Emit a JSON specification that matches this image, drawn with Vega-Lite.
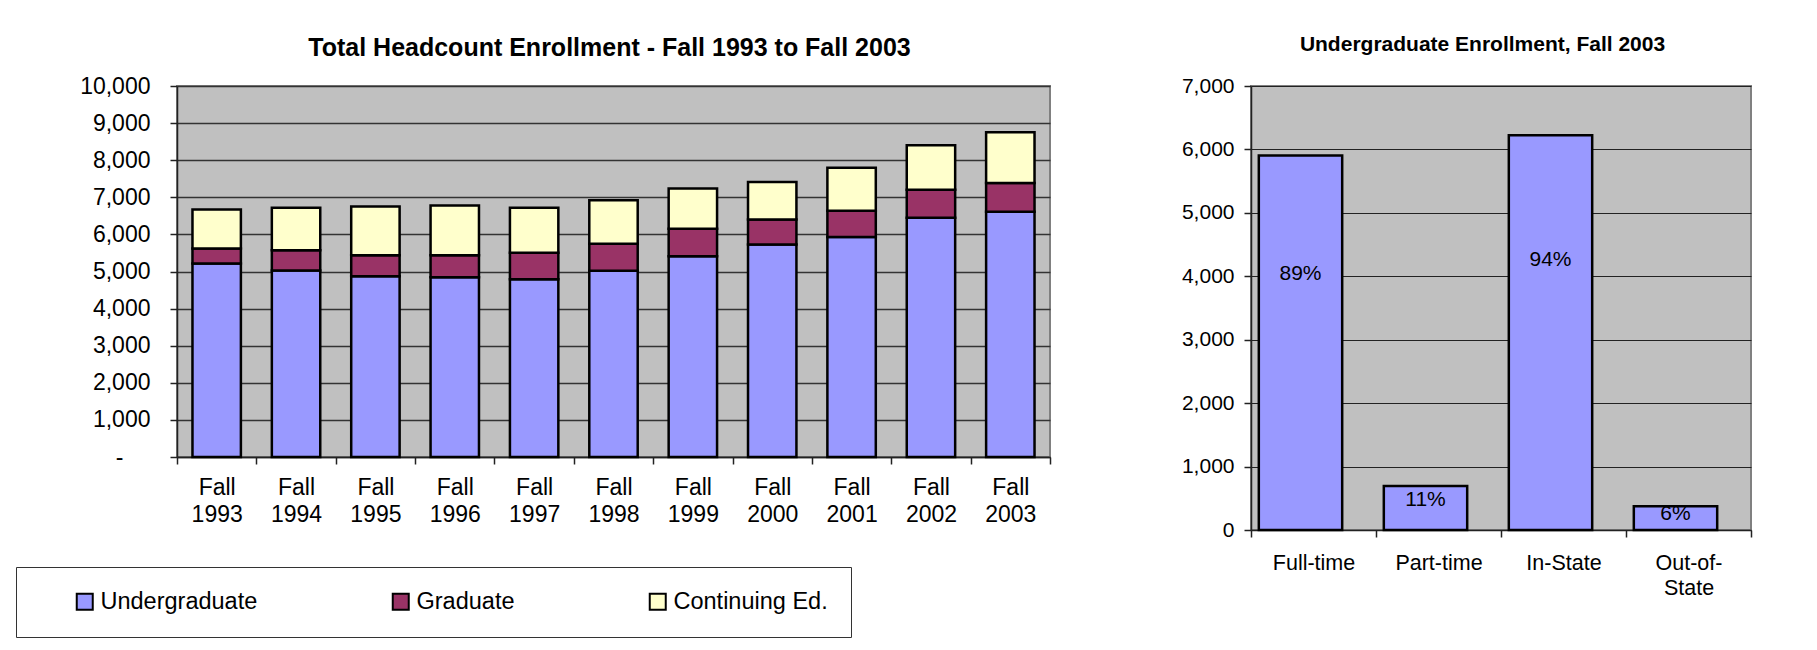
{
  "$schema": "https://vega.github.io/schema/vega-lite/v6.json",
  "background": "white",
  "padding": {"left": 15, "top": 33, "right": 5, "bottom": 5},
  "bounds": "flush",
  "spacing": 201,
  "config": {
    "font": "Liberation Sans",
    "view": {"fill": "#C0C0C0", "stroke": "#808080", "strokeWidth": 2},
    "axis": {"labelFont": "Liberation Sans", "labelColor": "black", "domainColor": "#222222", "domainWidth": 1.5, "tickColor": "#222222", "tickWidth": 1.5, "tickSize": 7, "gridColor": "#333333", "title": null}
  },
  "hconcat": [
    {
      "width": 873,
      "height": 371,
      "title": {"text": "Total Headcount Enrollment - Fall 1993 to Fall 2003", "fontSize": 25, "fontWeight": "bold", "color": "black", "anchor": "middle", "frame": "group", "baseline": "alphabetic", "offset": -6, "dx": -4},
      "data": {"values": [
        {"year": "Fall 1993", "level": "Undergraduate", "n": 5217},
        {"year": "Fall 1993", "level": "Graduate", "n": 405},
        {"year": "Fall 1993", "level": "Continuing Ed.", "n": 1052},
        {"year": "Fall 1994", "level": "Undergraduate", "n": 5028},
        {"year": "Fall 1994", "level": "Graduate", "n": 548},
        {"year": "Fall 1994", "level": "Continuing Ed.", "n": 1141},
        {"year": "Fall 1995", "level": "Undergraduate", "n": 4875},
        {"year": "Fall 1995", "level": "Graduate", "n": 566},
        {"year": "Fall 1995", "level": "Continuing Ed.", "n": 1314},
        {"year": "Fall 1996", "level": "Undergraduate", "n": 4848},
        {"year": "Fall 1996", "level": "Graduate", "n": 593},
        {"year": "Fall 1996", "level": "Continuing Ed.", "n": 1341},
        {"year": "Fall 1997", "level": "Undergraduate", "n": 4794},
        {"year": "Fall 1997", "level": "Graduate", "n": 709},
        {"year": "Fall 1997", "level": "Continuing Ed.", "n": 1214},
        {"year": "Fall 1998", "level": "Undergraduate", "n": 5020},
        {"year": "Fall 1998", "level": "Graduate", "n": 726},
        {"year": "Fall 1998", "level": "Continuing Ed.", "n": 1174},
        {"year": "Fall 1999", "level": "Undergraduate", "n": 5414},
        {"year": "Fall 1999", "level": "Graduate", "n": 737},
        {"year": "Fall 1999", "level": "Continuing Ed.", "n": 1089},
        {"year": "Fall 2000", "level": "Undergraduate", "n": 5729},
        {"year": "Fall 2000", "level": "Graduate", "n": 675},
        {"year": "Fall 2000", "level": "Continuing Ed.", "n": 1006},
        {"year": "Fall 2001", "level": "Undergraduate", "n": 5927},
        {"year": "Fall 2001", "level": "Graduate", "n": 709},
        {"year": "Fall 2001", "level": "Continuing Ed.", "n": 1160},
        {"year": "Fall 2002", "level": "Undergraduate", "n": 6447},
        {"year": "Fall 2002", "level": "Graduate", "n": 756},
        {"year": "Fall 2002", "level": "Continuing Ed.", "n": 1197},
        {"year": "Fall 2003", "level": "Undergraduate", "n": 6609},
        {"year": "Fall 2003", "level": "Graduate", "n": 774},
        {"year": "Fall 2003", "level": "Continuing Ed.", "n": 1368}
      ]},
      "mark": {"type": "bar", "width": {"band": 0.61}, "stroke": "black", "strokeWidth": 2.5},
      "encoding": {
        "x": {"field": "year", "type": "nominal", "scale": {"paddingInner": 0, "paddingOuter": 0},
          "axis": {"labelAngle": 0, "labelFontSize": 23, "labelExpr": "split(datum.label, ' ')", "labelLineHeight": 27.7, "labelPadding": 12, "tickBand": "extent", "grid": false}},
        "y": {"field": "n", "type": "quantitative", "stack": "zero", "scale": {"domain": [0, 10000], "nice": false},
          "axis": {"values": [0, 1000, 2000, 3000, 4000, 5000, 6000, 7000, 8000, 9000, 10000], "format": ",.0f", "labelExpr": "datum.value == 0 ? '-' : datum.label", "labelFontSize": 23, "labelPadding": {"condition": {"test": "datum.value === 0", "value": 47}, "value": 20}, "gridWidth": 1.5, "gridColor": "#333333"}},
        "color": {"field": "level", "type": "nominal", "sort": ["Undergraduate", "Graduate", "Continuing Ed."],
          "scale": {"domain": ["Undergraduate", "Graduate", "Continuing Ed."], "range": ["#9999FF", "#993366", "#FFFFCC"]},
          "legend": {"orient": "none", "legendX": -161, "legendY": 481, "direction": "horizontal", "title": "\u00a0", "titleOrient": "left", "titleFontSize": 22, "titlePadding": 34, "symbolType": "square", "symbolSize": 256, "symbolStrokeColor": "black", "symbolStrokeWidth": 2, "symbolOpacity": 1, "labelFontSize": 23.5, "labelColor": "black", "labelOffset": 4, "labelLimit": 400, "columnPadding": 130, "gridAlign": "none", "padding": 23, "strokeColor": "#333333"}},
        "order": {"field": "level", "sort": "descending"}
      }
    },
    {
      "width": 500,
      "height": 444,
      "title": {"text": "Undergraduate Enrollment, Fall 2003", "fontSize": 21, "fontWeight": "bold", "color": "black", "anchor": "middle", "frame": "group", "baseline": "alphabetic", "offset": 2.6, "dx": -18.5},
      "data": {"values": [
        {"cat": "Full-time", "n": 5905, "pct": "89%"},
        {"cat": "Part-time", "n": 695, "pct": "11%"},
        {"cat": "In-State", "n": 6222, "pct": "94%"},
        {"cat": "Out-of-State", "n": 375, "pct": "6%"}
      ]},
      "layer": [
        {
          "mark": {"type": "bar", "width": {"band": 0.667}, "xOffset": -13, "fill": "#9999FF", "stroke": "black", "strokeWidth": 2.5},
          "encoding": {
            "x": {"field": "cat", "type": "nominal", "sort": null, "scale": {"paddingInner": 0, "paddingOuter": 0},
              "axis": {"labelAngle": 0, "labelFontSize": 21.5, "labelExpr": "datum.label == 'Out-of-State' ? ['Out-of-', 'State'] : datum.label", "labelLineHeight": 25, "labelPadding": 15, "tickBand": "extent", "grid": false}},
            "y": {"field": "n", "type": "quantitative", "scale": {"domain": [0, 7000], "nice": false},
              "axis": {"values": [0, 1000, 2000, 3000, 4000, 5000, 6000, 7000], "format": ",.0f", "labelFontSize": 21, "labelPadding": 10, "gridWidth": 1, "gridColor": "#222222"}}
          }
        },
        {
          "mark": {"type": "text", "xOffset": -13, "fontSize": 21, "baseline": "middle", "color": "black"},
          "encoding": {
            "x": {"field": "cat", "type": "nominal", "sort": null},
            "y": {"field": "n", "type": "quantitative", "scale": {"domain": [0, 10230], "nice": false}, "axis": null},
            "text": {"field": "pct"}
          }
        }
      ],
      "resolve": {"scale": {"y": "independent"}}
    }
  ]
}
